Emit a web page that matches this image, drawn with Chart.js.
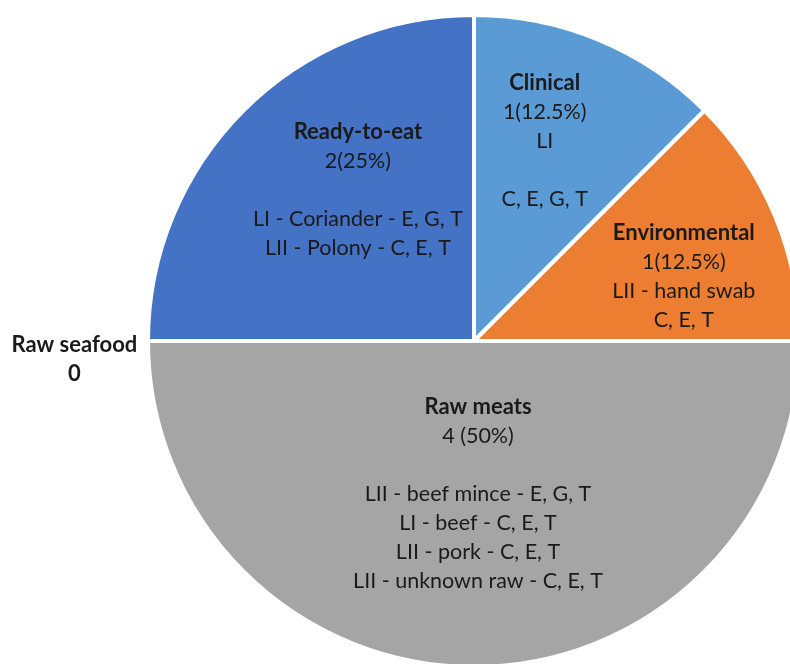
<!DOCTYPE html>
<html>
<head>
<meta charset="utf-8">
<script src="https://cdn.jsdelivr.net/npm/chart.js@4.4.0/dist/chart.umd.min.js"></script>
<style>
  html, body { margin: 0; padding: 0; overflow: hidden; background: #fff; }
  #wrap { width: 810px; height: 680px; }
</style>
</head>
<body>
<div id="wrap"><canvas id="pieChart"></canvas></div>
<script>
// categories, clockwise from 12 o'clock
const categories = ['Clinical', 'Environmental', 'Raw meats', 'Raw seafood', 'Ready-to-eat'];
const counts = [1, 1, 4, 0, 2];
const countLabels = ['1(12.5%)', '1(12.5%)', '4 (50%)', '0', '2(25%)'];
const detailLines = [
    ['LI', '', 'C, E, G, T'],
    ['LII - hand swab', 'C, E, T'],
    ['', 'LII - beef mince - E, G, T', 'LI - beef - C, E, T', 'LII - pork - C, E, T', 'LII - unknown raw - C, E, T'],
    [],
    ['', 'LI - Coriander - E, G, T', 'LII - Polony - C, E, T']
];
const colors = ['#5B9BD5', '#ED7D31', '#A5A5A5', '#FFC000', '#4472C4'];

// where each label sits: fraction of radius along the slice middle, plus angle nudge (deg)
const labelPlace = [
    { r: 0.65, nudge: -3 },
    { r: 0.673, nudge: 5.5 },
    { r: 0.47, nudge: -1.5 },
    { r: 1.227, nudge: -2.7 },
    { r: 0.585, nudge: 7.5 }
];

const FONT = 'Lato, "Open Sans", sans-serif';
const LINE_H = 29;

const sliceLabels = {
    id: 'sliceLabels',
    afterDraw(chart) {
        const ctx = chart.ctx;
        const arcs = chart.getDatasetMeta(0).data;
        ctx.save();
        ctx.textAlign = 'center';
        ctx.textBaseline = 'middle';
        ctx.fillStyle = '#1a1a1a';
        arcs.forEach((arc, i) => {
            const p = arc.getProps(['x', 'y', 'startAngle', 'endAngle', 'outerRadius'], true);
            const mid = (p.startAngle + p.endAngle) / 2 + labelPlace[i].nudge * Math.PI / 180;
            const rr = p.outerRadius * labelPlace[i].r;
            const cx = p.x + rr * Math.cos(mid);
            const cy = p.y + rr * Math.sin(mid);
            const zero = counts[i] === 0;
            const lines = [{ t: categories[i], bold: true }, { t: countLabels[i], bold: zero }];
            detailLines[i].forEach(t => lines.push({ t: t, bold: false }));
            const top = cy - (lines.length - 1) * LINE_H / 2;
            lines.forEach((ln, k) => {
                if (!ln.t) return;
                ctx.font = (ln.bold ? 'bold 22px ' : '21.5px ') + FONT;
                ctx.fillText(ln.t, cx, top + k * LINE_H);
            });
        });
        ctx.restore();
    }
};

new Chart(document.getElementById('pieChart').getContext('2d'), {
    type: 'pie',
    data: {
        labels: categories,
        datasets: [{
            data: counts,
            backgroundColor: colors,
            borderColor: '#ffffff',
            borderWidth: 4
        }]
    },
    options: {
        responsive: true,
        maintainAspectRatio: false,
        animation: false,
        layout: { padding: { left: 146, top: 13, right: 8, bottom: 11 } },
        plugins: {
            legend: { display: false },
            tooltip: { enabled: false }
        }
    },
    plugins: [sliceLabels]
});
</script>
</body>
</html>
